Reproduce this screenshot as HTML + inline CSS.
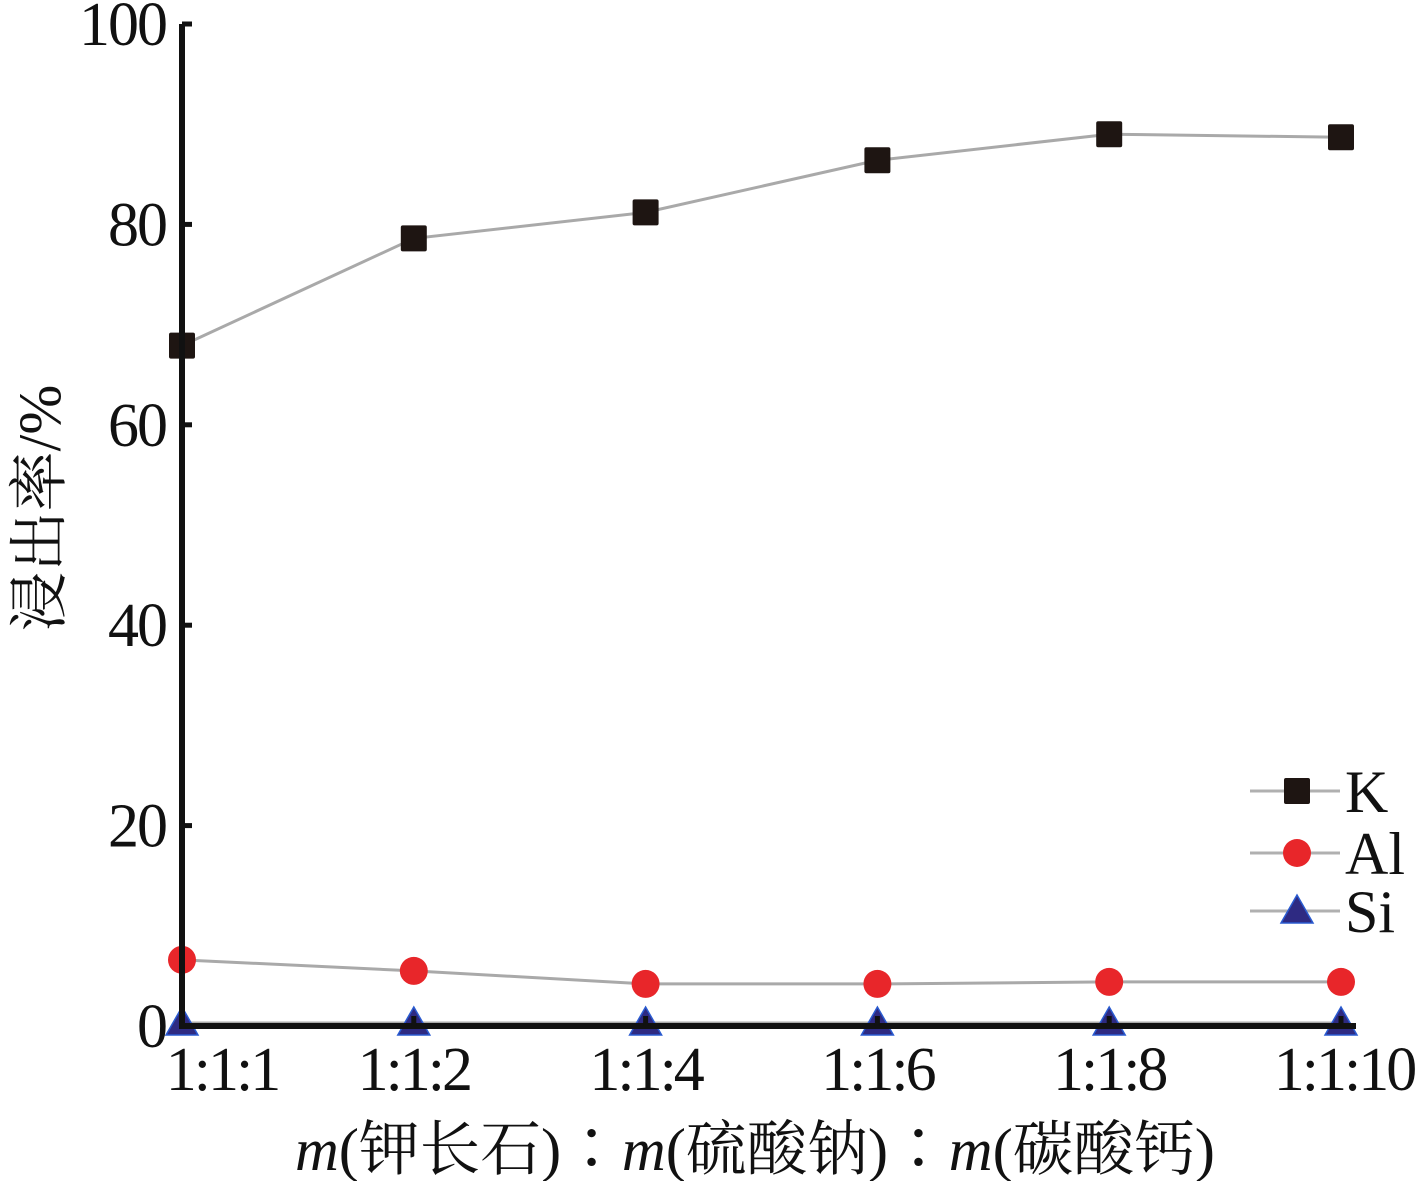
<!DOCTYPE html>
<html><head><meta charset="utf-8"><style>
html,body{margin:0;padding:0;background:#fff;}
svg{display:block;}
text{font-family:"Liberation Serif","Noto Serif CJK SC",serif;fill:#111;}
</style></head><body>
<svg id="chart" width="1417" height="1181" viewBox="0 0 1417 1181" xmlns="http://www.w3.org/2000/svg">
<g id="plot"></g>
<g id="legend"></g>
</svg>
<script>
const categories = ["1:1:1","1:1:2","1:1:4","1:1:6","1:1:8","1:1:10"];
const kValues = [67.9, 78.6, 81.2, 86.4, 89.0, 88.7];
const alValues = [6.6, 5.5, 4.2, 4.2, 4.4, 4.4];
const siValues = [0.3, 0.3, 0.3, 0.3, 0.3, 0.3];
const yTicks = [0, 20, 40, 60, 80, 100];

const NS = "http://www.w3.org/2000/svg";
const x0 = 182, xStep = 231.8, yZero = 1026, yTop = 24;
const xs = i => x0 + i * xStep;
const ys = v => yZero - (v / 100) * (yZero - yTop);
const plot = document.getElementById('plot');
const legend = document.getElementById('legend');
function mk(tag, attrs, parent) {
  const e = document.createElementNS(NS, tag);
  for (const k in attrs) e.setAttribute(k, attrs[k]);
  parent.appendChild(e);
  return e;
}
function marker(type, cx, cy, parent) {
  let e;
  if (type === 'square') e = mk('rect', {x: cx-13, y: cy-13, width: 26, height: 26, fill: '#1e1512', rx: 2}, parent);
  else if (type === 'circle') e = mk('circle', {cx: cx, cy: cy, r: 14, fill: '#e8262a'}, parent);
  else e = mk('polygon', {points: `${cx},${cy-16} ${cx+16},${cy+12} ${cx-16},${cy+12}`, fill: '#2e2a82', stroke: '#2a5bd0', 'stroke-width': 1.5}, parent);
  return e;
}
const series = [
  {name: 'K', vals: kValues, type: 'square'},
  {name: 'Al', vals: alValues, type: 'circle'},
  {name: 'Si', vals: siValues, type: 'triangle'}
];
series.forEach(s => {
  const pl = mk('polyline', {points: s.vals.map((v,i)=>`${xs(i)},${ys(v)}`).join(' '), fill: 'none', stroke: '#a9a9a9', 'stroke-width': 3}, plot);
  
  
  s.vals.forEach((v,i) => {
    const m = marker(s.type, xs(i), ys(v), plot);
    
    
  });
});
const ya = mk('line', {x1: x0, y1: yTop, x2: x0, y2: yZero+3, stroke: '#111', 'stroke-width': 6}, plot);


const xa = mk('line', {x1: x0-3, y1: yZero, x2: 1356, y2: yZero, stroke: '#111', 'stroke-width': 6}, plot);


yTicks.forEach(t => {
  const y = ys(t);
  const tk = mk('line', {x1: x0, y1: y, x2: x0+10, y2: y, stroke: '#111', 'stroke-width': 5}, plot);
  
  
  const tx = mk('text', {x: 166, y: y+21, 'text-anchor': 'end', 'font-size': 62, 'letter-spacing': -2}, plot);
  tx.textContent = t;
  
  
});
categories.forEach((c,i) => {
  const x = xs(i);
  const tk = mk('line', {x1: x, y1: yZero, x2: x, y2: yZero-10, stroke: '#111', 'stroke-width': 5}, plot);
  
  
  const tx = mk('text', {x: x + (i===0 ? 40 : (i===5 ? 3 : 0)), y: 1090, 'text-anchor': 'middle', 'font-size': 62, 'letter-spacing': -3}, plot);
  tx.textContent = c;
  
  
});
const xt = mk('text', {x: 755, y: 1170, 'text-anchor': 'middle', 'font-size': 60, textLength: 920, lengthAdjust: 'spacingAndGlyphs'}, plot);
xt.innerHTML = '<tspan font-style="italic">m</tspan>(钾长石)∶<tspan font-style="italic">m</tspan>(硫酸钠)∶<tspan font-style="italic">m</tspan>(碳酸钙)';


const yt = mk('text', {x: 0, y: 0, 'text-anchor': 'middle', 'font-size': 60, transform: 'translate(60,508) rotate(-90)'}, plot);
yt.textContent = '浸出率/%';


const ly = [791, 853, 911];
series.forEach((s,i) => {
  const l = mk('line', {x1: 1250, y1: ly[i], x2: 1340, y2: ly[i], stroke: '#b0b0b0', 'stroke-width': 3}, legend);
  
  
  const m = marker(s.type, 1297, ly[i], legend);
  
  
  const t = mk('text', {x: 1345, y: ly[i] + 21, 'font-size': 60}, legend);
  t.textContent = s.name;
  
  
});
</script>
</body></html>
